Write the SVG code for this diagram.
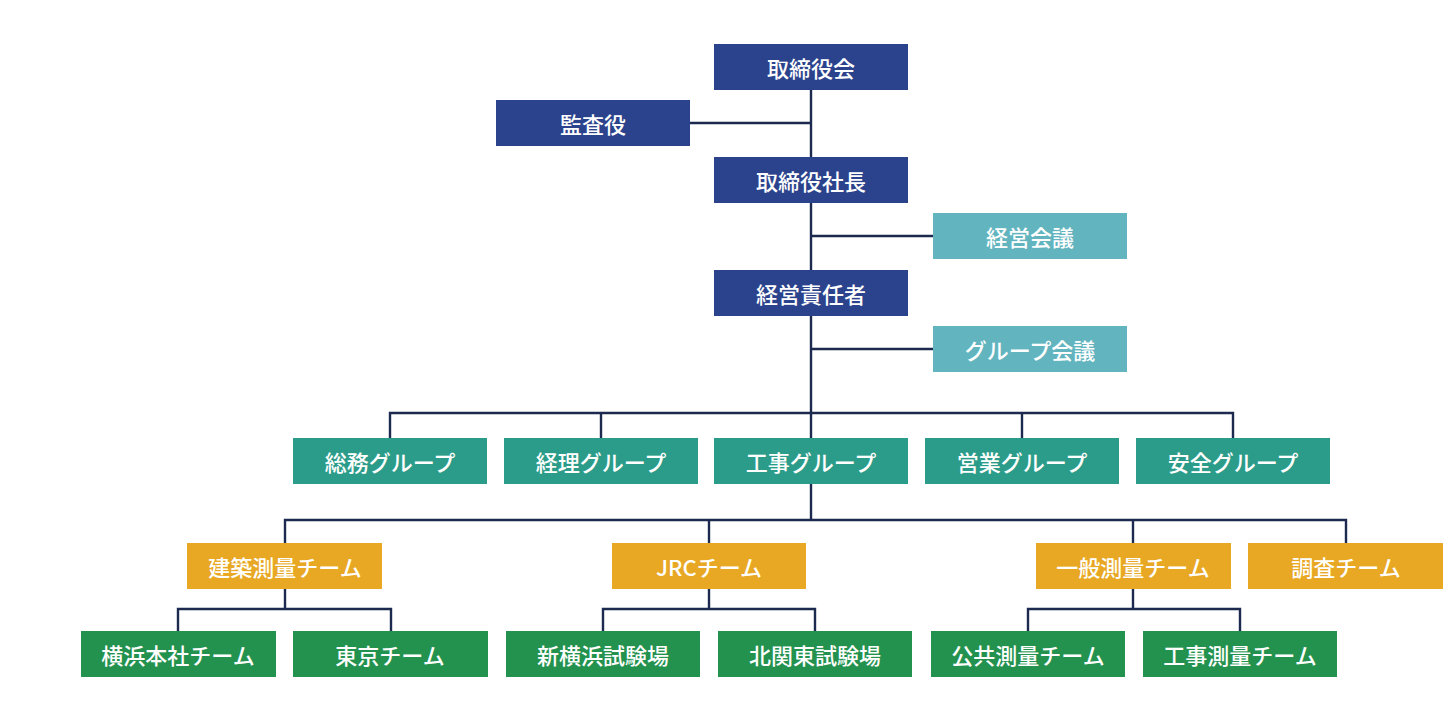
<svg xmlns="http://www.w3.org/2000/svg" width="1452" height="720" viewBox="0 0 1452 720">
<style>
.bg{fill:#ffffff}
.n rect{stroke:none}
.navy rect{fill:#2B438C}
.lteal rect{fill:#62B4BF}
.teal rect{fill:#2C9C8A}
.orange rect{fill:#E8A823}
.green rect{fill:#23924F}
.n text{font-family:"Noto Sans CJK JP","Noto Sans",sans-serif;font-size:22px;font-weight:500;fill:#ffffff;text-anchor:middle;dominant-baseline:central}
#connectors path{fill:none;stroke:#1B2A4E;stroke-width:2.4}
</style>
<rect class="bg" x="0" y="0" width="1452" height="720"/>
<g id="connectors">
<path d="M811 90 V413"/>
<path d="M690 123 H811"/>
<path d="M811 236 H933"/>
<path d="M811 349 H933"/>
<path d="M390 438 V413 H1233 V438"/>
<path d="M601 413 V438"/>
<path d="M811 413 V438"/>
<path d="M1022 413 V438"/>
<path d="M811 484 V520"/>
<path d="M285 543 V520 H1346 V543"/>
<path d="M709 520 V543"/>
<path d="M1133 520 V543"/>
<path d="M285 589 V609"/>
<path d="M178 631 V609 H391 V631"/>
<path d="M709 589 V609"/>
<path d="M603 631 V609 H815 V631"/>
<path d="M1133 589 V609"/>
<path d="M1028 631 V609 H1240 V631"/>
</g>
<g id="torishimariyakukai" class="n navy"><rect x="714" y="44" width="194" height="46"/><text x="811" y="67">取締役会</text></g>
<g id="kansayaku" class="n navy"><rect x="496" y="100" width="194" height="46"/><text x="593" y="123">監査役</text></g>
<g id="shacho" class="n navy"><rect x="714" y="157" width="194" height="46"/><text x="811" y="180">取締役社長</text></g>
<g id="keieikaigi" class="n lteal"><rect x="933" y="213" width="194" height="46"/><text x="1030" y="236">経営会議</text></g>
<g id="sekininsha" class="n navy"><rect x="714" y="270" width="194" height="46"/><text x="811" y="293">経営責任者</text></g>
<g id="groupkaigi" class="n lteal"><rect x="933" y="326" width="194" height="46"/><text x="1030" y="349">グループ会議</text></g>
<g id="somu" class="n teal"><rect x="293" y="438" width="194" height="46"/><text x="390" y="461">総務グループ</text></g>
<g id="keiri" class="n teal"><rect x="504" y="438" width="194" height="46"/><text x="601" y="461">経理グループ</text></g>
<g id="koji" class="n teal"><rect x="714" y="438" width="194" height="46"/><text x="811" y="461">工事グループ</text></g>
<g id="eigyo" class="n teal"><rect x="925" y="438" width="194" height="46"/><text x="1022" y="461">営業グループ</text></g>
<g id="anzen" class="n teal"><rect x="1136" y="438" width="194" height="46"/><text x="1233" y="461">安全グループ</text></g>
<g id="kenchiku" class="n orange"><rect x="187" y="543" width="195" height="46"/><text x="285" y="566">建築測量チーム</text></g>
<g id="jrc" class="n orange"><rect x="612" y="543" width="194" height="46"/><text x="709" y="566">JRCチーム</text></g>
<g id="ippan" class="n orange"><rect x="1036" y="543" width="195" height="46"/><text x="1133" y="566">一般測量チーム</text></g>
<g id="chosa" class="n orange"><rect x="1248" y="543" width="195" height="46"/><text x="1346" y="566">調査チーム</text></g>
<g id="yokohama" class="n green"><rect x="81" y="631" width="195" height="46"/><text x="178" y="654">横浜本社チーム</text></g>
<g id="tokyo" class="n green"><rect x="293" y="631" width="195" height="46"/><text x="390" y="654">東京チーム</text></g>
<g id="shinyokohama" class="n green"><rect x="506" y="631" width="194" height="46"/><text x="603" y="654">新横浜試験場</text></g>
<g id="kitakanto" class="n green"><rect x="718" y="631" width="194" height="46"/><text x="815" y="654">北関東試験場</text></g>
<g id="kokyo" class="n green"><rect x="931" y="631" width="194" height="46"/><text x="1028" y="654">公共測量チーム</text></g>
<g id="kojisokuryo" class="n green"><rect x="1143" y="631" width="194" height="46"/><text x="1240" y="654">工事測量チーム</text></g>
</svg>
